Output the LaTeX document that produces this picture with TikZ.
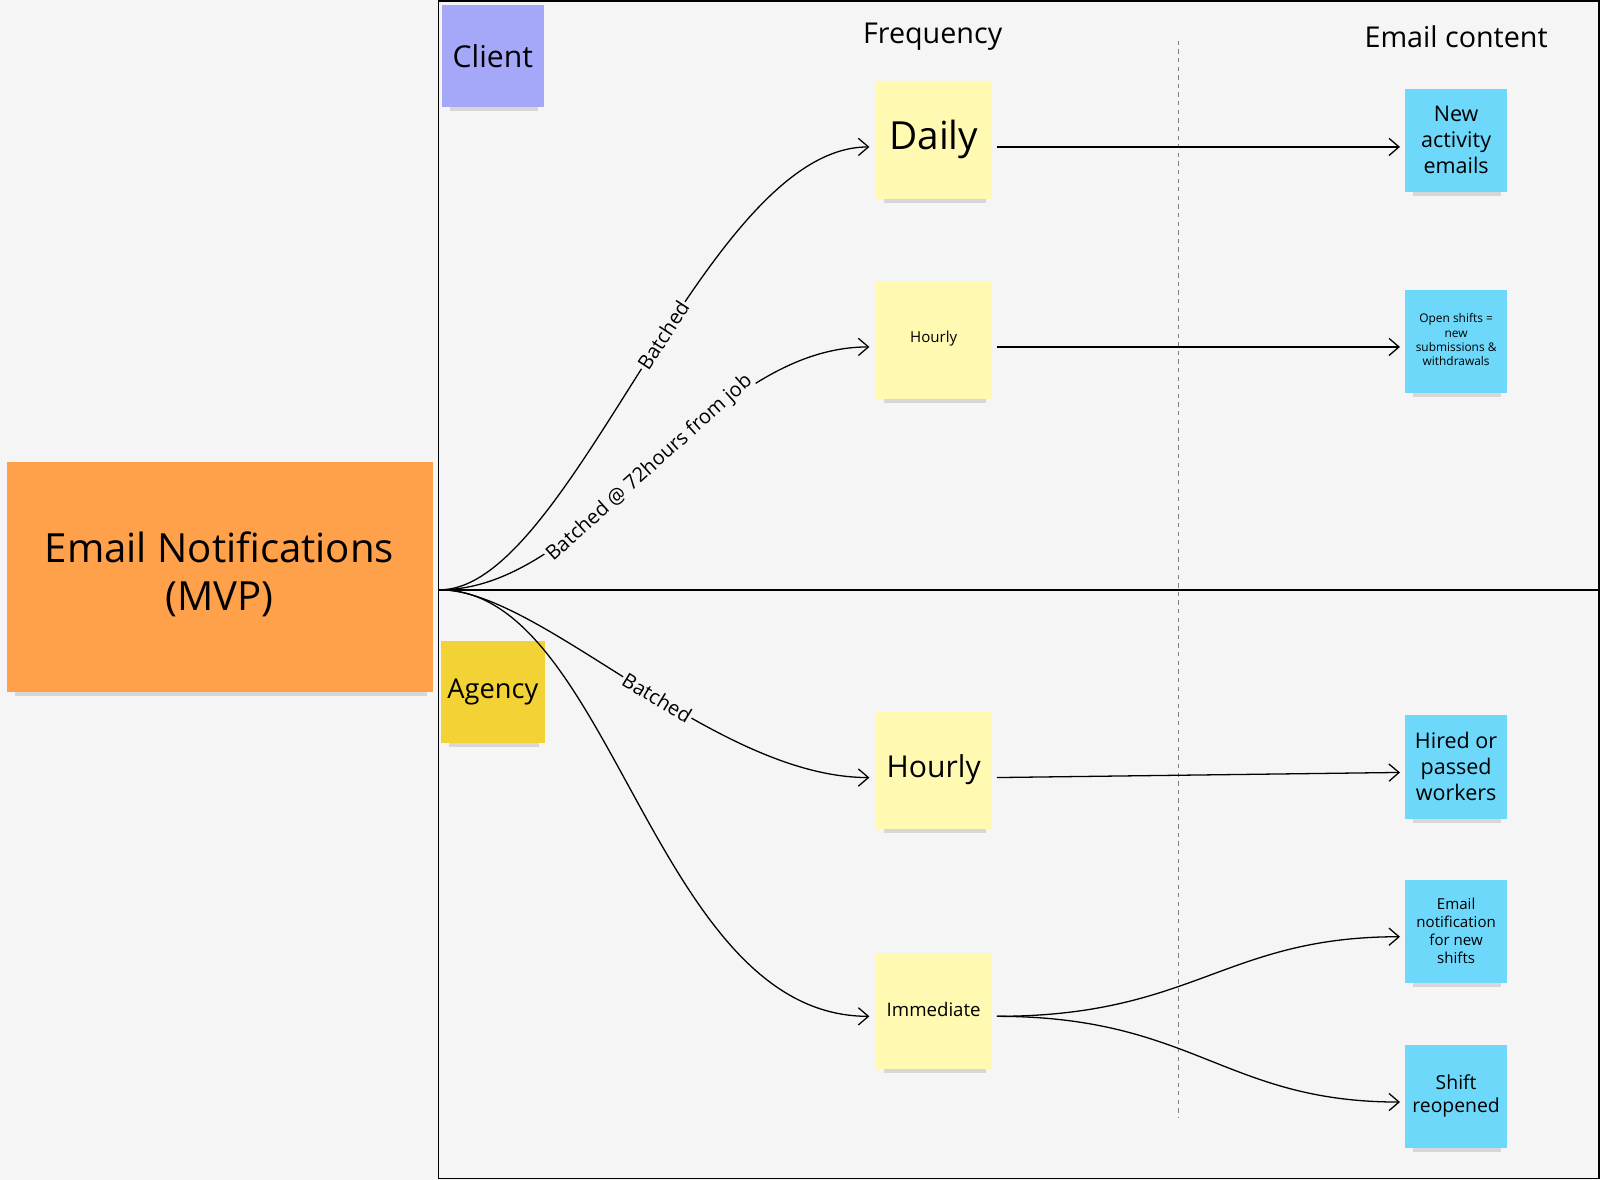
\documentclass[tikz,border=0pt]{standalone}
\usepackage{fontspec}
\setmainfont{Open Sans}
\usetikzlibrary{arrows.meta}
\definecolor{bg}{HTML}{F5F5F5}
\definecolor{orangenote}{HTML}{FFA04A}
\definecolor{clientnote}{HTML}{A5A8F9}
\definecolor{agencynote}{HTML}{F3D236}
\definecolor{yellownote}{HTML}{FFF9B1}
\definecolor{bluenote}{HTML}{6DD8FA}
\begin{document}
\begin{tikzpicture}[x=0.025cm,y=-0.025cm,
  note/.style={draw=none,align=center,inner sep=0pt,font=\fontsize{#1}{1.2\dimexpr#1pt\relax}\selectfont},
  arr/.style={-{Straight Barb[length=7pt,width=12pt]},line width=0.9pt},
  lbl/.style={fill=bg,inner sep=1pt,font=\fontsize{14}{16}\selectfont,sloped}]
\useasboundingbox (0,0) rectangle (1568,1156);
\fill[bg] (0,0) rectangle (1568,1156);
% frame
\draw[line width=0.8pt] (430,1) rectangle (1567,1155);
\draw[line width=1.2pt] (430,578) -- (1567,578);
\draw[gray,dashed,line width=0.6pt] (1155,40) -- (1155,1095);
% headers
\node[font=\fontsize{20}{24}\selectfont] (hf) at (914,36) {Frequency};
\node[font=\fontsize{20}{24}\selectfont] (he) at (1427,36) {Email content};
% shadows
\foreach \a/\b/\c/\d in {7/453/424/678,433/5/533/105,432/628/534/728,858/80/972/195,858/276/972/391,858/698/972/812,858/934/972/1048,1377/87/1477/188,1377/284/1477/385,1377/701/1477/803,1377/862/1477/963,1377/1024/1477/1125}
  \fill[black,opacity=0.12] (\a+8,\d-6) rectangle (\c-6,\d+4);
% notes
\fill[orangenote] (7,453) rectangle (424,678);
\node[note=28] (mvp) at (215,563) {Email Notifications\\(MVP)};
\fill[clientnote] (433,5) rectangle (533,105);
\node[note=21] (client) at (483,55) {Client};
\fill[agencynote] (432,628) rectangle (534,728);
\node[note=19] (agency) at (483,678) {Agency};
\fill[yellownote] (858,80) rectangle (972,195);
\node[note=27] (daily) at (915,137) {Daily};
\fill[yellownote] (858,276) rectangle (972,391);
\node[note=10.5] (hourly) at (915,332) {Hourly};
\fill[yellownote] (858,698) rectangle (972,812);
\node[note=21] (hourly2) at (915,754) {Hourly};
\fill[yellownote] (858,934) rectangle (972,1048);
\node[note=13] (imm) at (915,989) {Immediate};
\fill[bluenote] (1377,87) rectangle (1477,188);
\node[note=15] (b1) at (1427,137) {New\\activity\\emails};
\fill[bluenote] (1377,284) rectangle (1477,385);
\node[note=8.3] (b2) at (1427,333) {Open shifts =\\new\\submissions \&\\withdrawals};
\fill[bluenote] (1377,701) rectangle (1477,803);
\node[note=15] (b3) at (1427,751) {Hired or\\passed\\workers};
\fill[bluenote] (1377,862) rectangle (1477,963);
\node[note=10.5] (b4) at (1427,912) {Email\\notification\\for new\\shifts};
\fill[bluenote] (1377,1024) rectangle (1477,1125);
\node[note=13.5] (b5) at (1427,1074) {Shift\\reopened};
% connectors
\coordinate (o) at (431,578);
\coordinate (dIn) at (852,144);
\coordinate (hIn) at (852,340);
\coordinate (h2In) at (852,762);
\coordinate (iIn) at (852,996);
\draw[arr] (o) .. controls (560,578) and (690,144) .. node[lbl,pos=0.55] {Batched} (dIn);
\draw[arr] (o) .. controls (580,578) and (690,340) .. node[lbl,pos=0.5] {Batched @ 72hours from job} (hIn);
\draw[arr] (o) .. controls (530,578) and (700,762) .. node[lbl,pos=0.55] {Batched} (h2In);
\draw[arr] (o) .. controls (600,578) and (640,996) .. (iIn);
\coordinate (dOut) at (977,144);
\coordinate (hOut) at (977,340);
\coordinate (h2Out) at (977,762);
\coordinate (iOut) at (977,996);
\coordinate (b1In) at (1372,144);
\coordinate (b2In) at (1372,340);
\coordinate (b3In) at (1372,757);
\coordinate (b4In) at (1372,918);
\coordinate (b5In) at (1372,1080);
\draw[arr] (dOut) -- (b1In);
\draw[arr] (hOut) -- (b2In);
\draw[arr] (h2Out) -- (b3In);
\draw[arr] (iOut) .. controls (1170,996) and (1200,918) .. (b4In);
\draw[arr] (iOut) .. controls (1170,996) and (1200,1080) .. (b5In);
\end{tikzpicture}
\end{document}
